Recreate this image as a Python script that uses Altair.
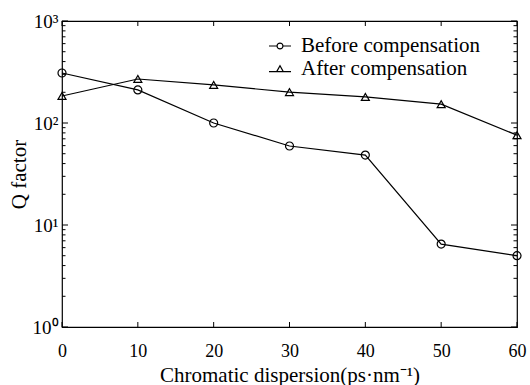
import altair as alt
import pandas as pd

# Chromatic dispersion values (ps/nm)
dispersion = [0, 10, 20, 30, 40, 50, 60]
# Q factor before and after compensation
q_before = [309, 211, 100, 59.5, 48.5, 6.5, 5.0]
q_after = [184, 270, 236, 201, 180, 153, 76]
series_names = ["Before compensation", "After compensation"]

# Log-axis tick positions
y_major = [1, 10, 100, 1000]
y_minor = [m * 10 ** e for e in range(3) for m in range(2, 10)]

rows = []
for name, vals in zip(series_names, [q_before, q_after]):
    for d, q in zip(dispersion, vals):
        rows.append({"disp": d, "q": q, "series": name})
df = pd.DataFrame(rows)

FONT = "Liberation Serif"
W, H = 455, 306

y_label_expr = ("datum.value == 1 ? '10\u2070' : datum.value == 10 ? '10\u00b9' : "
                "datum.value == 100 ? '10\u00b2' : datum.value == 1000 ? '10\u00b3' : ''")

x_scale = alt.Scale(domain=[0, 60], nice=False, zero=False)
y_scale = alt.Scale(type="log", domain=[1, 1000], nice=False)

# One shared axis definition per channel, reused by every layer
x_axis = alt.Axis(orient="bottom", values=dispersion, format="d",
                  title="Chromatic dispersion(ps\u00b7nm\u207b\u00b9)",
                  domain=False, ticks=False, labelFlush=False,
                  labelFontSize=18, labelPadding=15, titlePadding=4)
y_axis = alt.Axis(orient="left", values=y_major, labelExpr=y_label_expr,
                  title="Q factor", domain=False, ticks=False,
                  labelFlush=False, labelFontSize=19,
                  labelPadding=4, titlePadding=3)

# Legend symbols: a short line with the series marker in its middle
circle_sym = ("M-1,0L-0.27,0M0.27,0L1,0"
              "M0.27,0A0.27,0.27 0 1 1 -0.27,0A0.27,0.27 0 1 1 0.27,0")
tri_sym = "M-1,0.24L1,0.24M-0.3,0.24L0,-0.3L0.3,0.24Z"

base = alt.Chart(df)

lines = base.mark_line(color="black", strokeWidth=1.2).encode(
    x=alt.X("disp:Q", scale=x_scale, axis=x_axis),
    y=alt.Y("q:Q", scale=y_scale, axis=y_axis),
    detail="series:N",
)


def series_points(name, shape, symbol, legend_y):
    legend = alt.Legend(
        title=None, orient="none", legendX=206, legendY=legend_y,
        labelFont=FONT, labelFontSize=21, labelColor="black", labelLimit=400,
        labelOffset=9, symbolSize=484, symbolType=symbol,
        symbolStrokeColor="black", symbolFillColor="transparent",
        symbolStrokeWidth=1.2,
    )
    return base.transform_filter(alt.datum.series == name).mark_point(
        shape=shape, filled=False, strokeWidth=1.2, size=64, opacity=1
    ).encode(
        x=alt.X("disp:Q", scale=x_scale, axis=x_axis),
        y=alt.Y("q:Q", scale=y_scale, axis=y_axis),
        color=alt.Color("series:N", scale=alt.Scale(range=["black"]), legend=legend),
    )


pts_before = series_points(series_names[0], "circle", circle_sym, 13)
pts_after = series_points(series_names[1], "triangle-up", tri_sym, 36)


# Inward-pointing tick marks on all four sides of the frame
def y_ticks(values, length):
    t = alt.Chart(pd.DataFrame({"v": values})).mark_rule(color="black", strokeWidth=1)
    enc_y = alt.Y("v:Q", scale=y_scale, axis=y_axis)
    left = t.encode(y=enc_y, x=alt.value(0), x2=alt.value(length))
    right = t.encode(y=enc_y, x=alt.value(W), x2=alt.value(W - length))
    return [left, right]


def x_ticks(values, length):
    t = alt.Chart(pd.DataFrame({"v": values})).mark_rule(color="black", strokeWidth=1)
    enc_x = alt.X("v:Q", scale=x_scale, axis=x_axis)
    bottom = t.encode(x=enc_x, y=alt.value(H), y2=alt.value(H - length))
    top = t.encode(x=enc_x, y=alt.value(0), y2=alt.value(length))
    return [bottom, top]


tick_layers = y_ticks(y_major, 6) + y_ticks(y_minor, 3.5) + x_ticks(dispersion, 5)

chart = alt.layer(lines, pts_before, pts_after, *tick_layers).resolve_scale(
    color="independent"
).properties(
    width=W, height=H,
    background="white",
    autosize=alt.AutoSizeParams(type="none"),
    padding={"left": 62, "top": 21, "right": 13, "bottom": 58},
).configure_view(
    stroke="black", strokeWidth=1.2
).configure_axis(
    labelFont=FONT, titleFont=FONT, titleFontSize=21,
    labelColor="black", titleColor="black",
    titleFontWeight="normal", grid=False,
)

chart.save("out.html", embed_options={"renderer": "svg", "actions": False})
